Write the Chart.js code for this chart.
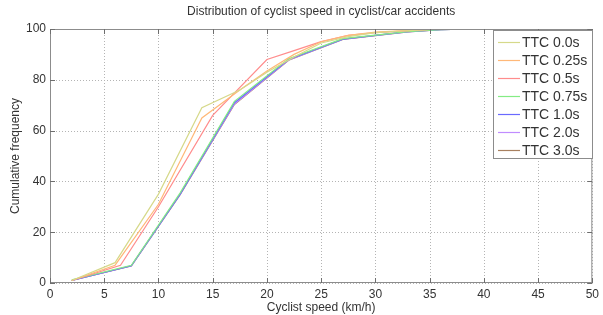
<!DOCTYPE html>
<html>
<head>
<meta charset="utf-8">
<script src="https://cdn.jsdelivr.net/npm/chart.js@4"></script>
<style>
  html, body { margin: 0; padding: 0; background: #fff; }
  #wrap { width: 603px; height: 315px; position: relative; }
</style>
</head>
<body>
<div id="wrap"><canvas id="chart"></canvas></div>
<script>
// Curvas (velocidade km/h -> frequencia acumulada %)
const labels = ['TTC 0.0s', 'TTC 0.25s', 'TTC 0.5s', 'TTC 0.75s', 'TTC 1.0s', 'TTC 2.0s', 'TTC 3.0s'];
const colors = ['#d6d98a', '#ffb878', '#ff8c8c', '#84ec84', '#6a6aff', '#c08cff', '#a88060'];

const speed00 = [2, 6, 10, 14, 17.5, 20, 22.5, 25, 27.5, 30, 35, 38];
const freq00  = [1, 8, 35, 69, 76, 83, 89, 94.5, 97, 98.6, 99.8, 100];
const speed025 = [2, 6, 10, 14, 17.5, 20, 22.5, 25, 27.5, 30, 35, 38];
const freq025  = [1, 7, 31, 65, 76, 83.5, 90, 95, 97.5, 98.8, 99.8, 100];
const speed05 = [2, 6.5, 10, 15, 20, 22.5, 25, 27.5, 30, 35, 38];
const freq05  = [1, 7, 30, 66, 88, 91.5, 95, 97.5, 98.6, 99.8, 100];
const speed075 = [2, 7.5, 12, 17, 22, 27, 30, 33, 36, 39];
const freq075  = [1.2, 7, 35.5, 71.5, 88.3, 96.2, 97.6, 99, 99.7, 100];
const speed10 = [2, 7.5, 12, 17, 22, 27, 30, 33, 36, 39];
const freq10  = [1, 6.8, 35, 71, 88, 96, 97.5, 99, 99.7, 100];
const speed20 = [2, 7.5, 12, 17, 22, 27, 30, 33, 36, 39];
const freq20  = [1, 6.8, 35, 70.5, 87.8, 96, 97.5, 98.9, 99.7, 100];
const speed30 = [2, 7.5, 12, 17, 22, 27, 30, 33, 36, 39];
const freq30  = [1, 6.7, 34.8, 70.3, 87.7, 95.9, 97.4, 98.9, 99.7, 100];

const speeds = [speed00, speed025, speed05, speed075, speed10, speed20, speed30];
const freqs = [freq00, freq025, freq05, freq075, freq10, freq20, freq30];

const xTicks = [0, 5, 10, 15, 20, 25, 30, 35, 40, 45, 50];
const yTicks = [0, 20, 40, 60, 80, 100];

const titleText = 'Distribution of cyclist speed in cyclist/car accidents';
const fontFamily = '"Liberation Sans", Arial, sans-serif';

// Montar datasets
const datasets = labels.map((label, i) => ({
    label: label,
    data: speeds[i].map((s, j) => ({ x: s, y: freqs[i][j] })),
    borderColor: colors[i],
    backgroundColor: colors[i],
    borderWidth: 1.2,
    pointRadius: 0,
    tension: 0,
    fill: false
}));

// Grade pontilhada, caixa dos eixos, marcas internas, titulo e legenda (estilo MATLAB)
const matlabPlugin = {
    id: 'matlabStyle',
    beforeDatasetsDraw(chart) {
        const ctx = chart.ctx;
        const area = chart.chartArea;
        const xs = chart.scales.x;
        const ys = chart.scales.y;
        ctx.save();
        ctx.strokeStyle = '#b4b4b4';
        ctx.lineWidth = 1;
        ctx.setLineDash([1, 2]);
        ctx.beginPath();
        xTicks.forEach(v => {
            const px = Math.round(xs.getPixelForValue(v)) + 0.5;
            ctx.moveTo(px, area.top); ctx.lineTo(px, area.bottom);
        });
        yTicks.forEach(v => {
            const py = Math.round(ys.getPixelForValue(v)) + 0.5;
            ctx.moveTo(area.left, py); ctx.lineTo(area.right, py);
        });
        ctx.stroke();
        ctx.restore();
    },
    afterDatasetsDraw(chart) {
        const ctx = chart.ctx;
        const area = chart.chartArea;
        const xs = chart.scales.x;
        const ys = chart.scales.y;
        ctx.save();

        // caixa
        ctx.strokeStyle = '#8c8c8c';
        ctx.lineWidth = 1;
        ctx.strokeRect(area.left + 0.5, area.top + 0.5, area.right - area.left - 1, area.bottom - area.top - 1);

        // marcas internas
        ctx.strokeStyle = '#6e6e6e';
        ctx.beginPath();
        xTicks.forEach(v => {
            const px = Math.round(xs.getPixelForValue(v)) + 0.5;
            ctx.moveTo(px, area.bottom); ctx.lineTo(px, area.bottom - 5);
            ctx.moveTo(px, area.top); ctx.lineTo(px, area.top + 5);
        });
        yTicks.forEach(v => {
            const py = Math.round(ys.getPixelForValue(v)) + 0.5;
            ctx.moveTo(area.left, py); ctx.lineTo(area.left + 5, py);
            ctx.moveTo(area.right, py); ctx.lineTo(area.right - 5, py);
        });
        ctx.stroke();

        // titulo centrado na area do grafico
        ctx.fillStyle = '#333';
        ctx.font = '12px ' + fontFamily;
        ctx.textAlign = 'center';
        ctx.textBaseline = 'middle';
        ctx.fillText(titleText, (area.left + area.right) / 2, 12);

        // legenda
        const boxLeft = 493, boxTop = 30, boxW = 99, boxH = 128;
        ctx.fillStyle = '#fff';
        ctx.fillRect(boxLeft, boxTop, boxW, boxH);
        ctx.strokeStyle = '#8c8c8c';
        ctx.strokeRect(boxLeft + 0.5, boxTop + 0.5, boxW, boxH);
        ctx.font = '14px ' + fontFamily;
        ctx.textAlign = 'left';
        chart.data.datasets.forEach((ds, i) => {
            const y = boxTop + 12 + i * 18;
            ctx.strokeStyle = ds.borderColor;
            ctx.lineWidth = 1.2;
            ctx.beginPath();
            ctx.moveTo(boxLeft + 5, y + 0.5);
            ctx.lineTo(boxLeft + 27, y + 0.5);
            ctx.stroke();
            ctx.fillStyle = '#333';
            ctx.fillText(ds.label, boxLeft + 29, y + 1);
        });
        ctx.restore();
    }
};

new Chart(document.getElementById('chart'), {
    type: 'line',
    data: { datasets: datasets },
    plugins: [matlabPlugin],
    options: {
        responsive: true,
        maintainAspectRatio: false,
        animation: false,
        layout: { padding: { top: 29, right: 10, left: 0, bottom: 0 } },
        plugins: {
            legend: { display: false },
            title: { display: false },
            tooltip: { enabled: false }
        },
        scales: {
            x: {
                type: 'linear',
                min: 0,
                max: 50,
                afterBuildTicks: scale => { scale.ticks = xTicks.map(v => ({ value: v })); },
                afterFit: scale => { scale.height = 32; },
                grid: { display: false, drawTicks: false },
                border: { display: false },
                ticks: {
                    color: '#333',
                    padding: 4,
                    maxRotation: 0,
                    font: { size: 12, family: fontFamily }
                },
                title: {
                    display: true,
                    text: 'Cyclist speed (km/h)',
                    color: '#333',
                    padding: { top: 0, bottom: 0 },
                    font: { size: 12, family: fontFamily }
                }
            },
            y: {
                type: 'linear',
                min: 0,
                max: 100,
                afterBuildTicks: scale => { scale.ticks = yTicks.map(v => ({ value: v })); },
                afterFit: scale => { scale.width = 50; },
                grid: { display: false, drawTicks: false },
                border: { display: false },
                ticks: {
                    color: '#333',
                    padding: 4,
                    font: { size: 12, family: fontFamily }
                },
                title: {
                    display: true,
                    text: 'Cumulative frequency',
                    color: '#333',
                    padding: { top: 8, bottom: 0 },
                    font: { size: 12, family: fontFamily }
                }
            }
        }
    }
});
</script>
</body>
</html>
